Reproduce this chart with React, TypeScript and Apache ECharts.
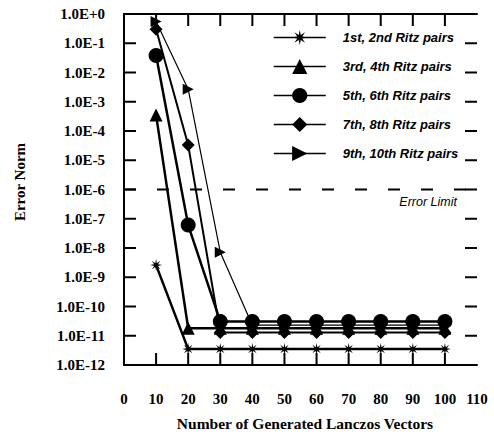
import React, { useEffect, useRef } from 'react';
import * as echarts from 'echarts';

const xValues = [10, 20, 30, 40, 50, 60, 70, 80, 90, 100];
const seriesNames = [
  '1st, 2nd Ritz pairs',
  '3rd, 4th Ritz pairs',
  '5th, 6th Ritz pairs',
  '7th, 8th Ritz pairs',
  '9th, 10th Ritz pairs',
];
const pairs12 = [2.6e-9, 3.5e-12, 3.5e-12, 3.5e-12, 3.5e-12, 3.5e-12, 3.5e-12, 3.5e-12, 3.5e-12, 3.5e-12];
const pairs34 = [3.5e-4, 1.8e-11, 1.8e-11, 1.8e-11, 1.8e-11, 1.8e-11, 1.8e-11, 1.8e-11, 1.8e-11, 1.8e-11];
const pairs56 = [3.8e-2, 6.1e-8, 3.1e-11, 3.1e-11, 3.1e-11, 3.1e-11, 3.1e-11, 3.1e-11, 3.1e-11, 3.1e-11];
const pairs78 = [0.3, 3.3e-5, 1.3e-11, 1.3e-11, 1.3e-11, 1.3e-11, 1.3e-11, 1.3e-11, 1.3e-11, 1.3e-11];
const pairs910 = [0.55, 2.7e-3, 7.2e-9, 2.3e-11, 2.3e-11, 2.3e-11, 2.3e-11, 2.3e-11, 2.3e-11, 2.3e-11];
const errorLimit = 1e-6;
const errorLimitX = [0, 110];
const errorLimitLabel = 'Error Limit';
const xAxisTitle = 'Number of Generated Lanczos Vectors';
const yAxisTitle = 'Error Norm';
const xMin = 0;
const xMax = 110;
const xStep = 10;
const yMin = 1e-12;
const yMax = 1;
// interior tick positions (the corners coincide with the frame)
const xTickValues = [10, 20, 30, 40, 50, 60, 70, 80, 90, 100];
const yTickValues = [1e-11, 1e-10, 1e-9, 1e-8, 1e-7, 1e-6, 1e-5, 1e-4, 1e-3, 1e-2, 1e-1];

const STAR =
  'path://M20,10L13.23,11.34L17.07,17.07L11.34,13.23L10,20L8.66,13.23L2.93,17.07L6.77,11.34L0,10L6.77,8.66L2.93,2.93L8.66,6.77L10,0L11.34,6.77L17.07,2.93L13.23,8.66Z';
const RIGHT_TRI = 'path://M0,0L10,5L0,10Z';

const seriesValues = [pairs12, pairs34, pairs56, pairs78, pairs910];
const symbols = [STAR, 'triangle', 'circle', 'diamond', RIGHT_TRI];
const symbolSizes = [12, 13, 15, 13, 11];
const lineWidths = [2.5, 2.5, 2.5, 2, 1.2];

function fmtExp(v: number) {
  const e = Math.round(Math.log10(v));
  return '1.0E' + (e >= 0 ? '+' + e : String(e));
}

const mkLine = () => ({ show: true, lineStyle: { color: '#000', width: 2 } });

export default function App() {
  const ref = useRef<HTMLDivElement>(null);
  useEffect(() => {
    document.body.style.margin = '0';
    const chart = echarts.init(ref.current!, null, { renderer: 'svg' });
    const serif = 'Liberation Serif';
    const series: any[] = seriesValues.map((vals, i) => ({
      name: seriesNames[i],
      type: 'line',
      data: vals.map((v, j) => [xValues[j], v]),
      symbol: symbols[i],
      symbolSize: symbolSizes[i],
      lineStyle: { color: '#000', width: lineWidths[i] },
      itemStyle: { color: '#000' },
      xAxisIndex: 0,
      yAxisIndex: 0,
      z: 3,
    }));
    series.push({
      name: errorLimitLabel,
      type: 'line',
      data: errorLimitX.map((x) => [x, errorLimit]),
      symbol: 'none',
      silent: true,
      lineStyle: { color: '#000', width: 2, type: [12, 21] },
      xAxisIndex: 0,
      yAxisIndex: 0,
      z: 2,
    });
    const tickLen = 12;
    // kind 0 = x tick (bottom + top), kind 1 = y tick (left + right)
    const tickData = [
      ...xTickValues.map((v) => [v, yMin, 0]),
      ...yTickValues.map((v) => [xMin, v, 1]),
    ];
    series.push({
      type: 'custom',
      silent: true,
      clip: false,
      z: 10,
      xAxisIndex: 0,
      yAxisIndex: 0,
      encode: { x: 0, y: 1 },
      data: tickData,
      renderItem: (params: any, api: any) => {
        const cs = params.coordSys;
        const kind = api.value(2);
        const p = api.coord([api.value(0), api.value(1)]);
        const style = { stroke: '#000', lineWidth: 2, fill: 'none' };
        if (kind === 0) {
          const x = p[0];
          return {
            type: 'group',
            children: [
              { type: 'line', shape: { x1: x, y1: cs.y + cs.height, x2: x, y2: cs.y + cs.height - tickLen }, style },
              { type: 'line', shape: { x1: x, y1: cs.y, x2: x, y2: cs.y + tickLen }, style },
            ],
          };
        }
        const y = p[1];
        return {
          type: 'group',
          children: [
            { type: 'line', shape: { x1: cs.x, y1: y, x2: cs.x + tickLen, y2: y }, style },
            { type: 'line', shape: { x1: cs.x + cs.width, y1: y, x2: cs.x + cs.width - tickLen, y2: y }, style },
          ],
        };
      },
    });
    const xAxisBase = {
      type: 'value',
      min: xMin,
      max: xMax,
      interval: xStep,
      axisLine: mkLine(),
      axisTick: { show: false },
      splitLine: { show: false },
    };
    const yAxisBase = {
      type: 'log',
      logBase: 10,
      min: yMin,
      max: yMax,
      interval: 1,
      axisLine: mkLine(),
      axisTick: { show: false },
      splitLine: { show: false },
    };
    chart.setOption({
      animation: false,
      backgroundColor: '#fff',
      grid: { left: 124, right: 17, top: 14, bottom: 69 },
      legend: {
        orient: 'vertical',
        left: 268,
        top: 23,
        itemWidth: 52,
        itemHeight: 19,
        itemGap: 10,
        lineStyle: { width: 1.5 },
        textStyle: {
          fontFamily: 'Liberation Sans',
          fontStyle: 'italic',
          fontWeight: 'bold',
          fontSize: 13,
          lineHeight: 19,
          color: '#000',
          padding: [0, 0, 0, 12],
        },
        data: seriesNames,
      },
      xAxis: [
        {
          ...xAxisBase,
          position: 'bottom',
          axisLabel: { fontFamily: serif, fontWeight: 'bold', fontSize: 15, color: '#000', margin: 26 },
        },
        { ...xAxisBase, position: 'top', axisLabel: { show: false } },
      ],
      yAxis: [
        {
          ...yAxisBase,
          position: 'left',
          axisLabel: {
            fontFamily: serif,
            fontWeight: 'bold',
            fontSize: 15,
            color: '#000',
            margin: 19,
            formatter: fmtExp,
          },
        },
        { ...yAxisBase, position: 'right', axisLabel: { show: false } },
      ],
      series,
    });
    const py = (v: number) => Number(chart.convertToPixel({ yAxisIndex: 0 }, v));
    chart.setOption({
      graphic: [
        {
          type: 'text',
          id: 'errlim',
          right: 37,
          top: py(errorLimit) + 6,
          style: {
            text: errorLimitLabel,
            fontFamily: 'Liberation Sans',
            fontStyle: 'italic',
            fontSize: 12.5,
            fill: '#000',
          },
        },
        {
          type: 'text',
          id: 'xtitle',
          x: 305,
          y: 423,
          style: {
            text: xAxisTitle,
            fontFamily: serif,
            fontWeight: 'bold',
            fontSize: 15.5,
            fill: '#000',
            align: 'center',
            verticalAlign: 'middle',
          },
        },
        {
          type: 'text',
          id: 'ytitle',
          x: 20,
          y: 182,
          rotation: Math.PI / 2,
          style: {
            text: yAxisTitle,
            fontFamily: serif,
            fontWeight: 'bold',
            fontSize: 15,
            fill: '#000',
            align: 'center',
            verticalAlign: 'middle',
          },
        },
      ],
    });
    return () => chart.dispose();
  }, []);
  return <div ref={ref} style={{ width: 494, height: 434 }} />;
}
